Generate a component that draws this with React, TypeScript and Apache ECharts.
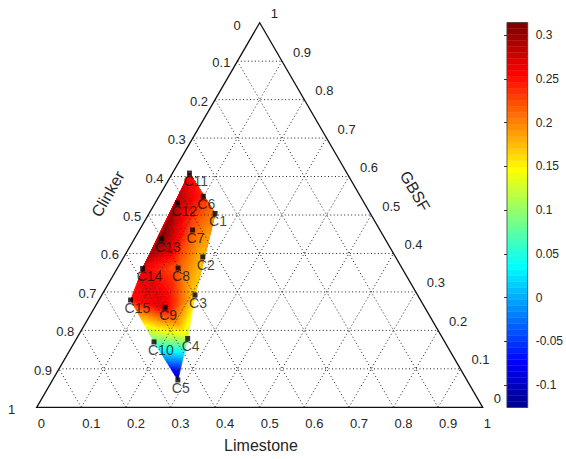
import React, { useEffect, useRef } from 'react';
import * as echarts from 'echarts';

// ---- data ----
const pointNames = ['C1', 'C2', 'C3', 'C4', 'C5', 'C6', 'C7', 'C8', 'C9', 'C10', 'C11', 'C12', 'C13', 'C14', 'C15'];
const limestone = [0.148, 0.177, 0.209, 0.249, 0.281, 0.099, 0.119, 0.136, 0.158, 0.178, 0.038, 0.05, 0.06, 0.057, 0.071];
const gbsf = [0.504, 0.391, 0.292, 0.179, 0.071, 0.549, 0.461, 0.362, 0.26, 0.17, 0.609, 0.531, 0.438, 0.361, 0.279];
const response = [0.2, 0.175, 0.165, 0.12, -0.1256, 0.24, 0.22, 0.22, 0.27, 0.08, 0.26, 0.29, 0.3144, 0.265, 0.25];

// triangulation of the measured points (by name)
const triangles = [
  ['C11', 'C6', 'C12'], ['C11', 'C12', 'C14'], ['C12', 'C13', 'C14'], ['C11', 'C1', 'C6'],
  ['C6', 'C1', 'C7'], ['C6', 'C7', 'C12'], ['C12', 'C7', 'C13'], ['C1', 'C2', 'C7'],
  ['C1', 'C3', 'C2'], ['C7', 'C2', 'C8'], ['C7', 'C8', 'C13'], ['C13', 'C8', 'C14'],
  ['C2', 'C3', 'C8'], ['C14', 'C8', 'C9'], ['C14', 'C9', 'C15'], ['C8', 'C3', 'C9'],
  ['C3', 'C4', 'C9'], ['C9', 'C4', 'C10'], ['C9', 'C10', 'C15'], ['C10', 'C4', 'C5'],
];

const gridTicks = [0.1, 0.2, 0.3, 0.4, 0.5, 0.6, 0.7, 0.8, 0.9];
const edgeTicks = [0, 0.1, 0.2, 0.3, 0.4, 0.5, 0.6, 0.7, 0.8, 0.9, 1];
const colorbarTicks = [-0.1, -0.05, 0, 0.05, 0.1, 0.15, 0.2, 0.25, 0.3];
const axisTitles = { bottom: 'Limestone', left: 'Clinker', right: 'GBSF' };

const FONT = '"Liberation Sans", Arial, Helvetica, sans-serif';
const TXT = '#262626';

const vmin = Math.min(...response);
const vmax = Math.max(...response);
const NLEV = 64;

function jetIndex(i: number): [number, number, number] {
  // MATLAB jet(64), i = 1..64
  let r = 0, g = 0, b = 0;
  if (i <= 8) b = (i + 8) / 16; else if (i <= 23) b = 1; else if (i <= 39) b = (40 - i) / 16;
  if (i >= 9 && i <= 24) g = (i - 8) / 16; else if (i >= 25 && i <= 39) g = 1; else if (i >= 40 && i <= 55) g = (56 - i) / 16;
  if (i >= 25 && i <= 40) r = (i - 24) / 16; else if (i >= 41 && i <= 55) r = 1; else if (i >= 56) r = (72 - i) / 16;
  return [r, g, b];
}
function jetColor(v: number): string {
  let i = Math.floor(((v - vmin) / (vmax - vmin)) * NLEV) + 1;
  if (i > NLEV) i = NLEV;
  if (i < 1) i = 1;
  const [r, g, b] = jetIndex(i);
  return `rgb(${Math.round(r * 255)},${Math.round(g * 255)},${Math.round(b * 255)})`;
}

const toXY = (l: number, g: number) => [l + g / 2, g];
const idx = (n: string) => pointNames.indexOf(n);
const fmt = (v: number) => String(Math.round(v * 100) / 100);

// gridline segments (data coords)
const gridSegs: number[][] = [];
gridTicks.forEach((t) => {
  gridSegs.push([t / 2, t, 1 - t / 2, t]);
  gridSegs.push([t, 0, (1 + t) / 2, 1 - t]);
  gridSegs.push([t, 0, t / 2, t]);
});

type Lbl = { x: number; y: number; text: string; dx: number; dy: number; align: string };
const tickLabels: Lbl[] = [];
edgeTicks.forEach((c) => {
  const g = 1 - c;
  const end = c === 0 || c === 1;
  tickLabels.push({ x: g / 2, y: g, text: fmt(c), dx: c === 0 ? -19 : c === 1 ? -21.5 : -7, dy: end ? 2.5 : 1.5, align: 'right' });
});
edgeTicks.forEach((g) => {
  tickLabels.push({ x: 1 - g / 2, y: g, text: fmt(g), dx: 11, dy: -9, align: 'left' });
});
edgeTicks.forEach((l) => {
  tickLabels.push({ x: l, y: 0, text: fmt(l), dx: 1, dy: 16, align: 'left' });
});

export default function App() {
  const ref = useRef<HTMLDivElement>(null);
  useEffect(() => {
    if (!ref.current) return;
    const chart = echarts.init(ref.current, null, { renderer: 'svg' });

    const option: any = {
      animation: false,
      backgroundColor: '#fff',
      grid: [
        { left: 36.7, top: 22.7, width: 446, height: 384.6 },
        { left: 507, top: 22.5, width: 22.5, height: 385 },
      ],
      xAxis: [
        { type: 'value', gridIndex: 0, min: 0, max: 1, show: false },
        { type: 'value', gridIndex: 1, min: 0, max: 1, show: false },
      ],
      yAxis: [
        { type: 'value', gridIndex: 0, min: 0, max: 1, show: false },
        {
          type: 'value', gridIndex: 1, min: vmin, max: vmax, position: 'right', z: 10,
          axisLine: { show: false }, splitLine: { show: false },
          axisTick: { show: true, inside: true, length: 3, customValues: colorbarTicks, lineStyle: { color: '#333' } },
          axisLabel: { customValues: colorbarTicks, formatter: (v: number) => fmt(v), margin: 8, fontSize: 12, color: TXT, fontFamily: FONT },
        },
      ],
      series: [
        {
          type: 'custom', xAxisIndex: 0, yAxisIndex: 0, z: 1,
          data: triangles.map((_, i) => [i]),
          renderItem: (params: any, api: any) => {
            const tri = triangles[params.dataIndex].map(idx);
            const P = tri.map((k) => api.coord(toXY(limestone[k], gbsf[k])));
            const V = tri.map((k) => response[k]);
            const e = (a: number[], b: number[]) => Math.hypot(a[0] - b[0], a[1] - b[1]);
            const n = Math.max(4, Math.ceil(Math.max(e(P[0], P[1]), e(P[1], P[2]), e(P[0], P[2])) / 3));
            const pt = (i: number, j: number) => [
              P[0][0] + ((P[1][0] - P[0][0]) * i) / n + ((P[2][0] - P[0][0]) * j) / n,
              P[0][1] + ((P[1][1] - P[0][1]) * i) / n + ((P[2][1] - P[0][1]) * j) / n,
            ];
            const val = (i: number, j: number) => V[0] + ((V[1] - V[0]) * i) / n + ((V[2] - V[0]) * j) / n;
            const children: any[] = [];
            for (let i = 0; i < n; i++) {
              for (let j = 0; j < n - i; j++) {
                const c1 = jetColor(val(i + 1 / 3, j + 1 / 3));
                children.push({ type: 'polygon', shape: { points: [pt(i, j), pt(i + 1, j), pt(i, j + 1)] }, style: { fill: c1, stroke: c1, lineWidth: 0.6 } });
                if (i + j < n - 1) {
                  const c2 = jetColor(val(i + 2 / 3, j + 2 / 3));
                  children.push({ type: 'polygon', shape: { points: [pt(i + 1, j), pt(i + 1, j + 1), pt(i, j + 1)] }, style: { fill: c2, stroke: c2, lineWidth: 0.6 } });
                }
              }
            }
            return { type: 'group', children };
          },
        },
        {
          type: 'custom', xAxisIndex: 0, yAxisIndex: 0, z: 3,
          data: gridSegs,
          renderItem: (params: any, api: any) => {
            const s = gridSegs[params.dataIndex];
            const a = api.coord([s[0], s[1]]);
            const b = api.coord([s[2], s[3]]);
            return { type: 'line', shape: { x1: a[0], y1: a[1], x2: b[0], y2: b[1] }, style: { stroke: '#222', lineWidth: 1, lineDash: [1, 2.5] } };
          },
        },
        {
          type: 'custom', xAxisIndex: 0, yAxisIndex: 0, z: 4,
          data: [[0]],
          renderItem: (params: any, api: any) => {
            const pts = [api.coord([0, 0]), api.coord([1, 0]), api.coord([0.5, 1])];
            return { type: 'polygon', shape: { points: pts }, style: { fill: 'none', stroke: '#111', lineWidth: 1.3 } };
          },
        },
        {
          type: 'custom', xAxisIndex: 0, yAxisIndex: 0, z: 5,
          data: tickLabels.map((t) => [t.x, t.y]),
          renderItem: (params: any, api: any) => {
            const t = tickLabels[params.dataIndex];
            const p = api.coord([t.x, t.y]);
            return {
              type: 'text', x: p[0] + t.dx, y: p[1] + t.dy,
              style: { text: t.text, align: t.align, verticalAlign: 'middle', fontSize: 13, fontFamily: FONT, fill: TXT },
            };
          },
        },
        {
          type: 'scatter', xAxisIndex: 0, yAxisIndex: 0, z: 6,
          symbol: 'rect', symbolSize: 5,
          itemStyle: { color: '#000' },
          data: pointNames.map((name, k) => ({ name, value: toXY(limestone[k], gbsf[k]) })),
          label: {
            show: true, formatter: '{b}', position: [-3.5, 10.5], align: 'left', verticalAlign: 'middle',
            fontSize: 14, fontFamily: FONT, color: '#111',
          },
        },
        {
          type: 'custom', xAxisIndex: 1, yAxisIndex: 1, z: 2,
          data: Array.from({ length: NLEV + 1 }, (_, i) => [i]),
          renderItem: (params: any, api: any) => {
            const k = params.dataIndex;
            if (k === NLEV) {
              const a = api.coord([0, vmax]);
              const b = api.coord([1, vmin]);
              return { type: 'rect', shape: { x: a[0], y: a[1], width: b[0] - a[0], height: b[1] - a[1] }, style: { fill: 'none', stroke: '#444', lineWidth: 0.8 }, z2: 10 };
            }
            const lo = vmin + ((vmax - vmin) * k) / NLEV;
            const hi = vmin + ((vmax - vmin) * (k + 1)) / NLEV;
            const a = api.coord([0, hi]);
            const b = api.coord([1, lo]);
            const [r, g, bl] = jetIndex(k + 1);
            const c = `rgb(${Math.round(r * 255)},${Math.round(g * 255)},${Math.round(bl * 255)})`;
            return { type: 'rect', shape: { x: a[0], y: a[1], width: b[0] - a[0], height: b[1] - a[1] }, style: { fill: c, stroke: c, lineWidth: 0.4 } };
          },
        },
      ],
      graphic: [
        { type: 'text', x: 261, y: 445, style: { text: axisTitles.bottom, align: 'center', verticalAlign: 'middle', fontSize: 16, fontFamily: FONT, fill: TXT } },
        { type: 'text', x: 108, y: 194, rotation: Math.PI / 3, style: { text: axisTitles.left, align: 'center', verticalAlign: 'middle', fontSize: 16, fontFamily: FONT, fill: TXT } },
        { type: 'text', x: 415, y: 191, rotation: -Math.PI / 3, style: { text: axisTitles.right, align: 'center', verticalAlign: 'middle', fontSize: 16, fontFamily: FONT, fill: TXT } },
      ],
    };
    chart.setOption(option);
    return () => chart.dispose();
  }, []);
  return <div ref={ref} style={{ position: 'absolute', left: 0, top: 0, width: 566, height: 459 }} />;
}
